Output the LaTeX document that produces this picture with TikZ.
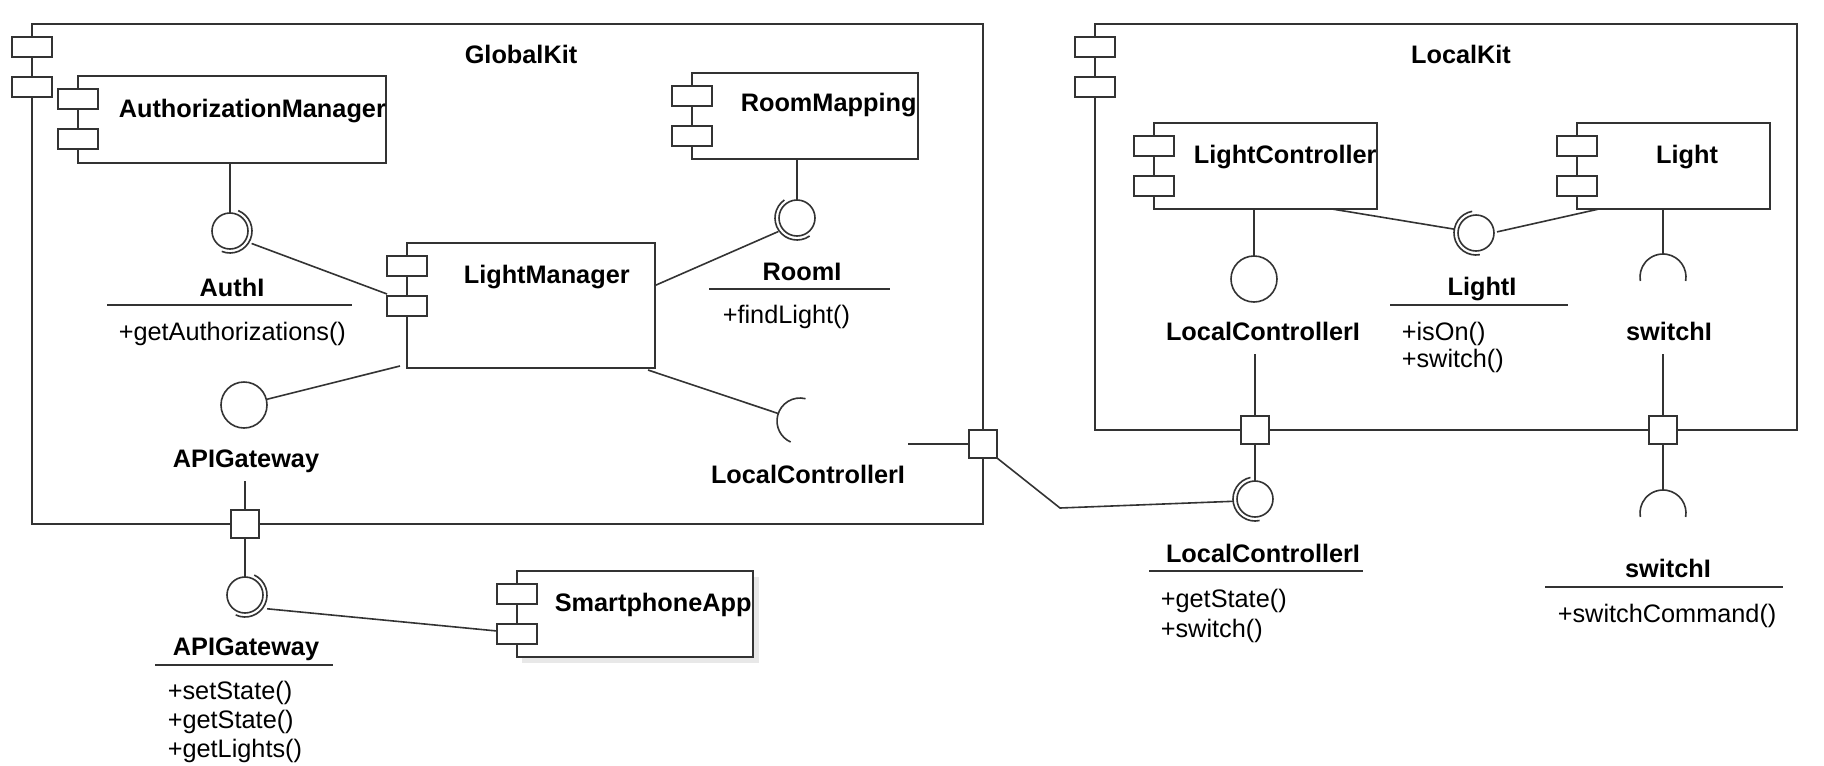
\documentclass[tikz,border=0pt]{standalone}
\usepackage{fontspec}
\setmainfont{Liberation Sans}
\newcommand\umlsize{\fontsize{25.3}{30}\selectfont}

\tikzset{
  comp/.style={draw,fill=white,rectangle,inner sep=0pt,outer sep=0pt,anchor=north west},
  icon/.style={draw,fill=white},
  ball/.style={draw,fill=white,circle,inner sep=0pt,outer sep=0pt,minimum size=36},
  lolli/.style={ball,minimum size=46},
  port/.style={draw,fill=white,rectangle,inner sep=0pt,outer sep=0pt,minimum size=28},
  lbl/.style={font=\umlsize\bfseries,text=black,inner sep=0pt,anchor=base},
  meth/.style={font=\umlsize,text=black,inner sep=0pt,anchor=base west},
}

\begin{document}
\begin{tikzpicture}[x=1pt,y=1pt,line width=1.6pt,color=black!80]
\useasboundingbox (0,0) rectangle (1824,-766);

%shadow of the app
\fill[black!9] (522,-577) rectangle (759,-663);

%kits and components
\foreach \n/\xa/\ya/\xb/\yb in {gk/32/24/983/524,lk/1095/24/1797/430,am/78/76/386/163,rm/692/73/918/159,lm/407/243/655/368,lc/1154/123/1377/209,lt/1577/123/1770/209,sa/517/571/753/657}{
    \node[comp,minimum width=\xb-\xa,minimum height=\yb-\ya] (\n) at (\xa,-\ya) {};
    \foreach \dy in {13,53}
        \draw[icon] ([shift={(-20,-\dy)}]\n.north west) rectangle +(40,-20);
}

%names
\node[lbl] (gktitle) at (521,-63) {GlobalKit};
\node[lbl] (lktitle) at (1461,-63) {LocalKit};
\node[lbl,anchor=base west] (amname) at (118,-117) {AuthorizationManager};
\node[lbl,anchor=base west] (rmname) at (740,-111) {RoomMapping};
\node[lbl,anchor=base west] (lmname) at (463,-283) {LightManager};
\node[lbl,anchor=base west] (lcname) at (1193,-163) {LightController};
\node[lbl] (ltname) at (1687,-163) {Light};
\node[lbl,anchor=base west] (saname) at (554,-611) {SmartphoneApp};

%interfaces
\node[ball]  (authi)  at (230,-231) {};
\node[ball]  (roomi)  at (797,-218) {};
\node[lolli] (apii)   at (244,-405) {};
\node[ball]  (apio)   at (245,-595) {};
\node[lolli] (lcpi)   at (1254,-279) {};
\node[ball]  (lcpo)   at (1255,-499) {};
\node[ball]  (lighti) at (1476,-233) {};
\coordinate (lcreq) at (800,-421);
\coordinate (swi)   at (1663,-277);
\coordinate (swo)   at (1663,-513);

%sockets
\foreach \b/\d in {authi/-22,roomi/215,apio/-25,lcpo/192,lighti/190}
    \draw (\b.center) ++(\d+90:22) arc[start angle=\d+90,end angle=\d-90,radius=22];
\draw (lcreq) ++(76:23) arc[start angle=76,end angle=246,radius=23];
\foreach \s in {swi,swo}
    \draw (\s) ++(-10:23) arc[start angle=-10,end angle=190,radius=23];

%ports
\node[port] (papi) at (245,-524) {};
\node[port] (pgk)  at (983,-444) {};
\node[port] (plc)  at (1255,-430) {};
\node[port] (psw)  at (1663,-430) {};

%labels of interfaces
\node[lbl] (authlbl) at (232,-296) {AuthI};
\draw[line width=1.3pt] (107,-305) -- (352,-305);
\node[meth] (authm) at (118,-340) {+getAuthorizations()};

\node[lbl] (roomlbl) at (802,-280) {RoomI};
\draw[line width=1.3pt] (709,-289) -- (890,-289);
\node[meth] (roomm) at (722,-323) {+findLight()};

\node[lbl] (lcreqlbl) at (808,-483) {LocalControllerI};

\node[lbl] (apiilbl) at (246,-467) {APIGateway};
\node[lbl] (apiolbl) at (246,-655) {APIGateway};
\draw[line width=1.3pt] (155,-665) -- (333,-665);
\node[meth] (apim1) at (167,-699) {+setState()};
\node[meth] (apim2) at (167,-728) {+getState()};
\node[meth] (apim3) at (167,-757) {+getLights()};

\node[lbl] (lcpilbl) at (1263,-340) {LocalControllerI};
\node[lbl] (lcpolbl) at (1263,-562) {LocalControllerI};
\draw[line width=1.3pt] (1149,-571) -- (1363,-571);
\node[meth] (lcpm1) at (1160,-607) {+getState()};
\node[meth] (lcpm2) at (1160,-637) {+switch()};

\node[lbl] (lightlbl) at (1482,-295) {LightI};
\draw[line width=1.3pt] (1390,-305) -- (1568,-305);
\node[meth] (lightm1) at (1401,-340) {+isOn()};
\node[meth] (lightm2) at (1401,-367) {+switch()};

\node[lbl] (swilbl) at (1669,-340) {switchI};
\node[lbl] (swolbl) at (1668,-577) {switchI};
\draw[line width=1.3pt] (1545,-587) -- (1783,-587);
\node[meth] (swom) at (1557,-622) {+switchCommand()};

%connectors in GlobalKit
\draw (authi.north) -- (authi.north |- am.south);
\draw ([shift={(-30:25)}]authi.center) -- ([shift={(-20,-51)}]lm.north west);
\draw (roomi.north) -- (roomi.north |- rm.south);
\draw ([shift={(216:23)}]roomi.center) -- ([yshift=20]lm.east);
\draw ([shift={(-7,-2)}]lm.south east) -- ([shift={(161:23)}]lcreq);
\draw ([shift={(14:23)}]apii.center) -- ([shift={(-7,2)}]lm.south west);
\coordinate (apiq) at (245,-481);
\draw (apiq) -- (papi);
\draw (papi) -- (apio);
\draw ([shift={(-32:26)}]apio.center) -- ([shift={(-20,-60)}]sa.north west);

%between the kits
\coordinate (stub) at (908,-444);
\coordinate (bend) at (1060,-508);
\draw (stub) -- (pgk);
\draw (pgk.south east) -- (bend) -- ([shift={(186:22)}]lcpo.center);

%connectors in LocalKit
\draw (lcpi) -- (lcpi |- lc.south);
\coordinate (lcq) at (1255,-354);
\draw (lcq) -- (plc);
\draw (plc) -- (lcpo);
\draw ([xshift=-45]lc.south east) -- ([shift={(170:22)}]lighti.center);
\draw ([shift={(3:21)}]lighti.center) -- ([xshift=22]lt.south west);
\draw ([yshift=23]swi) -- (swi |- lt.south);
\coordinate (swq) at (1663,-354);
\draw (swq) -- (psw);
\draw (psw) -- ([yshift=23]swo);

\end{tikzpicture}
\end{document}
